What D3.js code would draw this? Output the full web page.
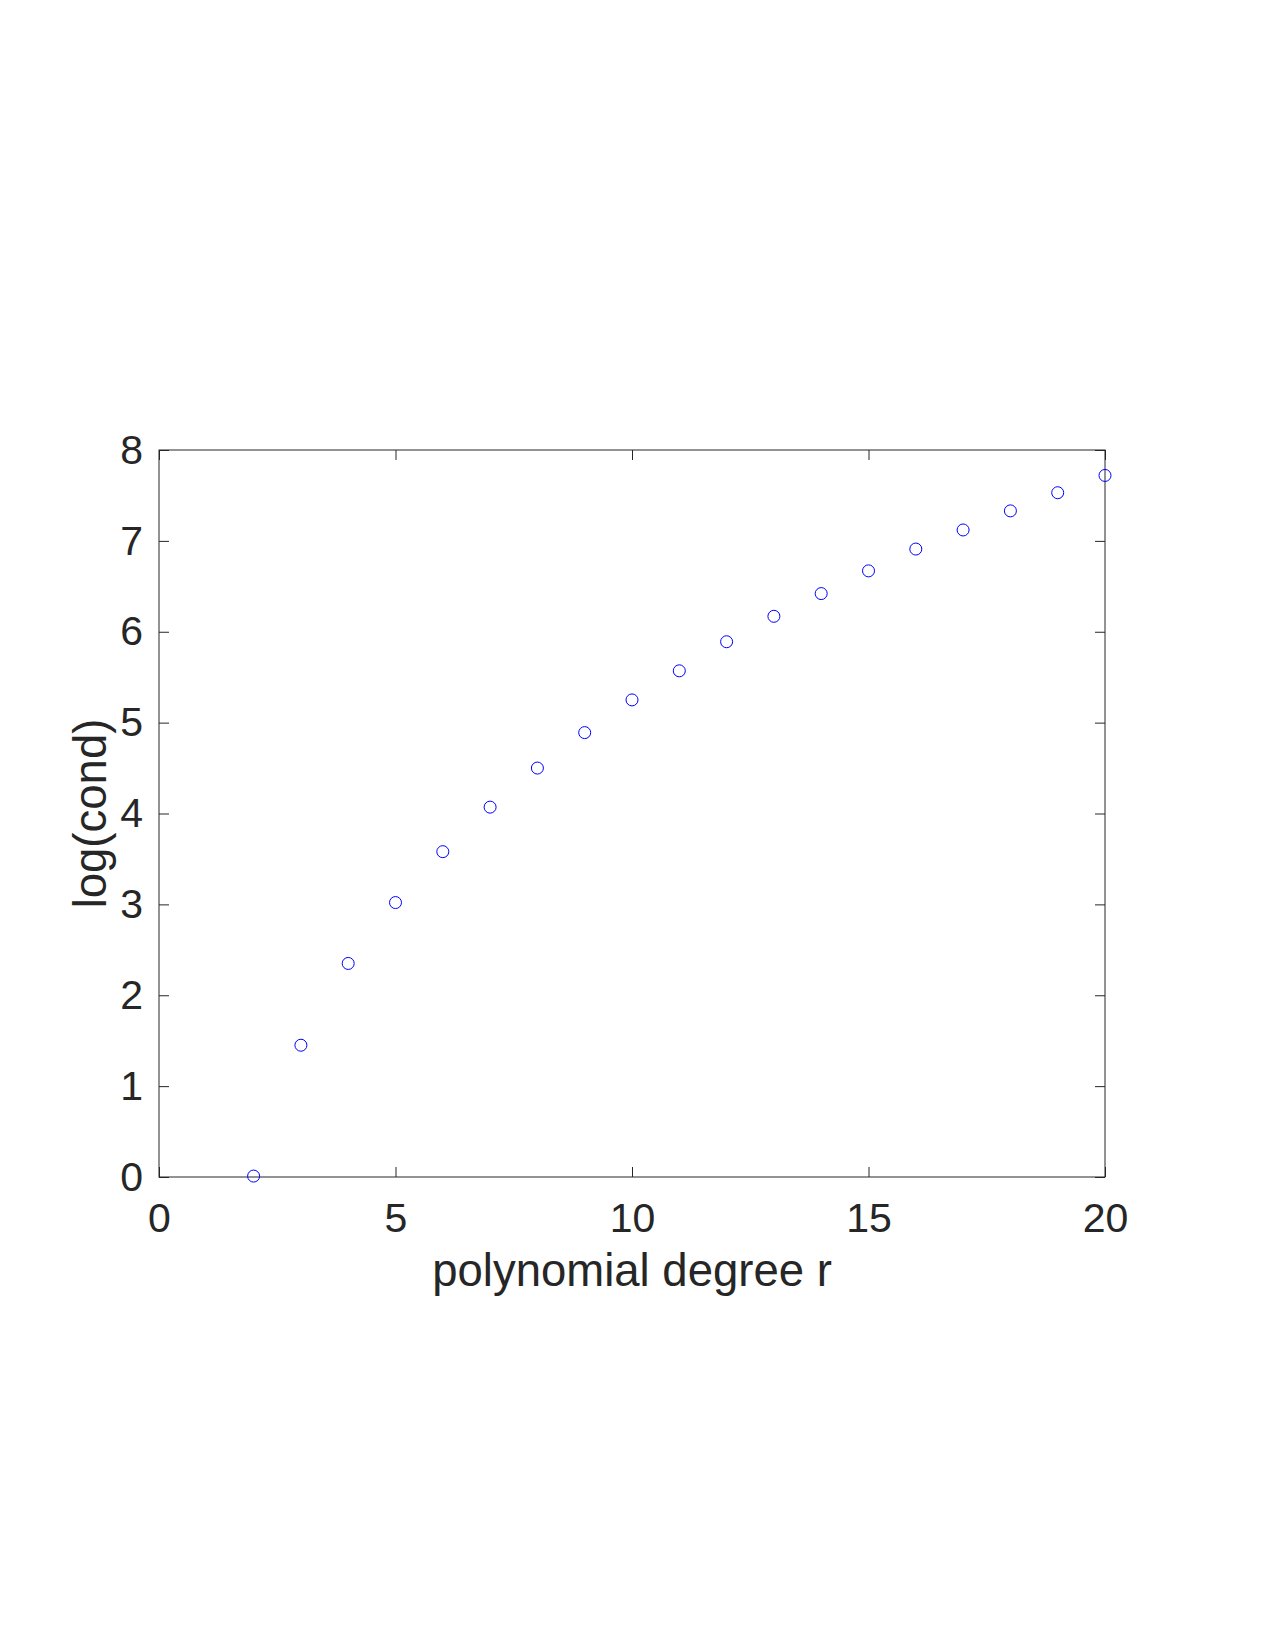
<!DOCTYPE html>
<html>
<head>
<meta charset="utf-8">
<script src="https://cdn.jsdelivr.net/npm/d3@7.9.0/dist/d3.min.js"></script>
<style>
  body { margin: 0; background: #fff; }
  svg text { font-family: "Liberation Sans", Arial, sans-serif; fill: #262626; }
</style>
</head>
<body>
<div id="chart"></div>
<script>
// polynomial degree r vs log(cond)
const degrees = [2, 3, 4, 5, 6, 7, 8, 9, 10, 11, 12, 13, 14, 15, 16, 17, 18, 19, 20];
const logCond = [0.01, 1.45, 2.35, 3.02, 3.58, 4.07, 4.50, 4.89, 5.25, 5.57, 5.89, 6.17, 6.42, 6.67, 6.91, 7.12, 7.33, 7.53, 7.72];
const xTicks = [0, 5, 10, 15, 20];
const yTicks = [0, 1, 2, 3, 4, 5, 6, 7, 8];

const width = 1275;
const height = 1650;
const margin = { top: 450, right: 170, bottom: 473, left: 159 };

const usableArea = {
  top: margin.top,
  right: width - margin.right,
  bottom: height - margin.bottom,
  left: margin.left,
};

const svg = d3.select('#chart')
  .append('svg')
  .attr('width', width)
  .attr('height', height);

const xScale = d3.scaleLinear().domain([0, 20]).range([usableArea.left, usableArea.right]);
const yScale = d3.scaleLinear().domain([0, 8]).range([usableArea.bottom, usableArea.top]);

const axisColor = '#262626';
const tickLen = 10;
const tickFont = 41;
const labelFont = 45.5;

// box
svg.append('rect')
  .attr('x', usableArea.left)
  .attr('y', usableArea.top)
  .attr('width', usableArea.right - usableArea.left)
  .attr('height', usableArea.bottom - usableArea.top)
  .attr('fill', 'none')
  .attr('stroke', axisColor)
  .attr('stroke-width', 1);

// bottom axis, ticks pointing inward
const xAxis = d3.axisBottom(xScale).tickValues(xTicks).tickSizeInner(-tickLen).tickSizeOuter(0).tickPadding(26);
const gx = svg.append('g')
  .attr('transform', `translate(0, ${usableArea.bottom})`)
  .call(xAxis);
gx.select('.domain').remove();
gx.selectAll('line').attr('stroke', axisColor);
gx.selectAll('text')
  .attr('font-size', tickFont)
  .attr('font-family', '"Liberation Sans", Arial, sans-serif')
  .attr('fill', axisColor);

// top ticks
const gxTop = svg.append('g')
  .attr('transform', `translate(0, ${usableArea.top})`)
  .call(d3.axisTop(xScale).tickValues(xTicks).tickSizeInner(-tickLen).tickSizeOuter(0).tickFormat(''));
gxTop.select('.domain').remove();
gxTop.selectAll('line').attr('stroke', axisColor);

// left axis
const yAxis = d3.axisLeft(yScale).tickValues(yTicks).tickSizeInner(-tickLen).tickSizeOuter(0).tickPadding(16);
const gy = svg.append('g')
  .attr('transform', `translate(${usableArea.left}, 0)`)
  .call(yAxis);
gy.select('.domain').remove();
gy.selectAll('line').attr('stroke', axisColor);
gy.selectAll('text')
  .attr('font-size', tickFont)
  .attr('font-family', '"Liberation Sans", Arial, sans-serif')
  .attr('fill', axisColor);

// right ticks
const gyRight = svg.append('g')
  .attr('transform', `translate(${usableArea.right}, 0)`)
  .call(d3.axisRight(yScale).tickValues(yTicks).tickSizeInner(-tickLen).tickSizeOuter(0).tickFormat(''));
gyRight.select('.domain').remove();
gyRight.selectAll('line').attr('stroke', axisColor);

// axis labels
svg.append('text')
  .attr('x', (usableArea.left + usableArea.right) / 2)
  .attr('y', 1286)
  .attr('text-anchor', 'middle')
  .attr('font-size', labelFont)
  .text('polynomial degree r');

svg.append('text')
  .attr('transform', `translate(106, ${(usableArea.top + usableArea.bottom) / 2}) rotate(-90)`)
  .attr('text-anchor', 'middle')
  .attr('font-size', labelFont)
  .text('log(cond)');

// points
svg.append('g')
  .attr('class', 'dots')
  .selectAll('circle')
  .data(degrees.map((d, i) => ({ r: d, v: logCond[i] })))
  .join('circle')
  .attr('cx', (d) => xScale(d.r))
  .attr('cy', (d) => yScale(d.v))
  .attr('r', 6)
  .attr('fill', 'none')
  .attr('stroke', '#0000ff')
  .attr('stroke-width', 1);
</script>
</body>
</html>
